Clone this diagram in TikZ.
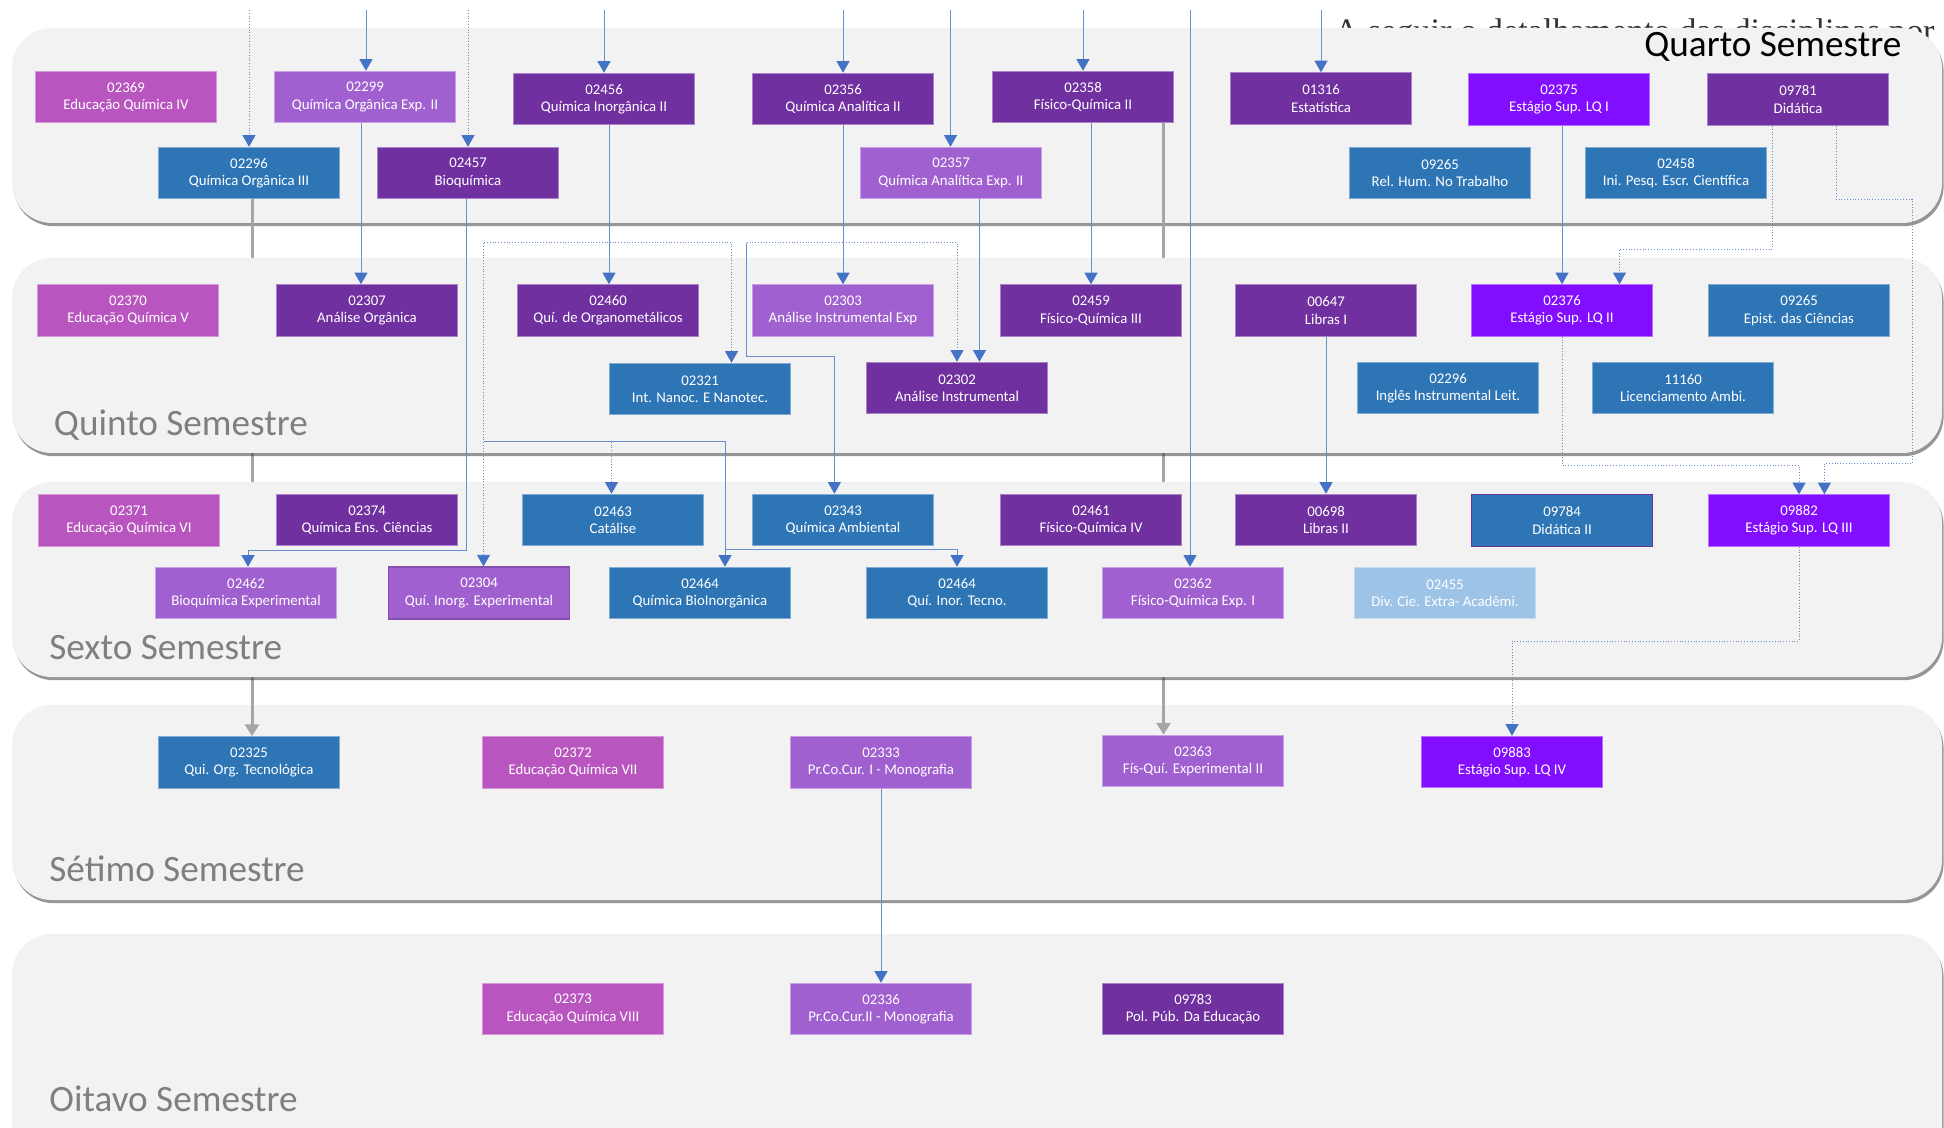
\documentclass[tikz,border=0pt]{standalone}
\usepackage{fontspec}
\setmainfont{Carlito}
\newfontfamily\serifA{Liberation Serif}
\usetikzlibrary{arrows.meta,shadows,calc}
\definecolor{dpur}{HTML}{7030A0}
\definecolor{mag}{HTML}{B955BF}
\definecolor{lpur}{HTML}{A160D0}
\definecolor{cblue}{HTML}{2E75B6}
\definecolor{viol}{HTML}{830EFF}
\definecolor{lblue}{HTML}{9DC3E6}
\definecolor{panelgray}{HTML}{F2F2F2}
\definecolor{lineblue}{HTML}{4472C4}
\definecolor{graycon}{HTML}{A5A5A5}
\definecolor{semgray}{HTML}{7F7F7F}
\pgfdeclarelayer{l0}\pgfdeclarelayer{l1}\pgfdeclarelayer{l2}\pgfdeclarelayer{l3}
\pgfsetlayers{l0,l1,l2,l3,main}
\tikzset{
  panel/.style={fill=panelgray, rounded corners=20pt, drop shadow={shadow xshift=0.8pt, shadow yshift=-1.6pt, opacity=0.55, fill=black!75}},
  cbox/.style={draw=#1!60!white, fill=#1, line width=0.5pt, text=white, minimum width=90.5pt, minimum height=25.75pt, inner sep=0pt, align=center, font=\fontsize{7.4}{8.7}\selectfont},
  conn/.style={draw=lineblue!80!white, line width=0.4pt, -{Triangle[width=6.5pt,length=5.8pt,color=lineblue]}},
  dconn/.style={conn, densely dotted},
  dline/.style={draw=lineblue!80!white, line width=0.4pt, densely dotted},
  gconn/.style={draw=graycon, line width=1.5pt, -{Triangle[width=7pt,length=6pt]}},
  semlab/.style={anchor=base west, inner sep=0pt, text=semgray, font=\fontsize{18.6}{22}\selectfont},
}
\begin{document}
\begin{tikzpicture}[x=0.5pt,y=-0.5pt]
\useasboundingbox (0,0) rectangle (1944,1128);

% ---------- panels ----------
\begin{pgfonlayer}{l0}
  \node[anchor=base west, inner sep=0pt, text=black!80, font=\serifA\fontsize{17.15}{20}\selectfont] (atext) at (1334,42.7) {A seguir o detalhamento das disciplinas por};
  \path[panel] (12,28) rectangle (1942,223);
  \path[panel] (12,705) rectangle (1942,900);
  \path[panel] (12,934) rectangle (1942,1180);
\end{pgfonlayer}
\begin{pgfonlayer}{l2}
  \path[panel] (12,258) rectangle (1942,453);
  \path[panel] (12,482) rectangle (1942,677);
\end{pgfonlayer}

% ---------- Quarto ----------
\node[cbox=mag]   (q1)  at (126,97)    {02369\\Educação Química IV};
\node[cbox=lpur]  (q2)  at (365,97)    {02299\\Química Orgânica Exp. II};
\node[cbox=dpur]  (q3)  at (604,99)    {02456\\Química Inorgânica II};
\node[cbox=dpur]  (q4)  at (843,99)    {02356\\Química Analítica II};
\node[cbox=dpur]  (q5)  at (1083,97)   {02358\\Físico-Química II};
\node[cbox=dpur]  (q6)  at (1321,98.5) {01316\\Estatística};
\node[cbox=viol]  (q7)  at (1559,99.7) {02375\\Estágio Sup. LQ I};
\node[cbox=dpur]  (q8)  at (1798,99.7) {09781\\Didática};
\node[cbox=cblue] (q9)  at (249,173)   {02296\\Química Orgânica III};
\node[cbox=dpur]  (q10) at (468,173)   {02457\\Bioquímica};
\node[cbox=lpur]  (q11) at (951,173)   {02357\\Química Analítica Exp. II};
\node[cbox=cblue] (q12) at (1440,173)  {09265\\Rel. Hum. No Trabalho};
\node[cbox=cblue] (q13) at (1676,173)  {02458\\Ini. Pesq. Escr. Científica};

% ---------- Quinto ----------
\node[cbox=mag]   (r1)  at (128,310.5)  {02370\\Educação Química V};
\node[cbox=dpur]  (r2)  at (367,310.5)  {02307\\Análise Orgânica};
\node[cbox=dpur]  (r3)  at (608,310.5)  {02460\\Quí. de Organometálicos};
\node[cbox=lpur]  (r4)  at (843,310.5)  {02303\\Análise Instrumental Exp};
\node[cbox=dpur]  (r5)  at (1091,310.5) {02459\\Físico-Química III};
\node[cbox=dpur]  (r6)  at (1326,310.5) {00647\\Libras I};
\node[cbox=viol]  (r7)  at (1562,310.5) {02376\\Estágio Sup. LQ II};
\node[cbox=cblue] (r8)  at (1799,310.5) {09265\\Epist. das Ciências};
\node[cbox=cblue] (r9)  at (700,389)    {02321\\Int. Nanoc. E Nanotec.};
\node[cbox=dpur]  (r10) at (957,388)    {02302\\Análise Instrumental};
\node[cbox=cblue] (r11) at (1448,388)   {02296\\Inglês Instrumental Leit.};
\node[cbox=cblue] (r12) at (1683,388)   {11160\\Licenciamento Ambi.};

% ---------- Sexto ----------
\node[cbox=mag]   (s1)  at (129,520.5)  {02371\\Educação Química VI};
\node[cbox=dpur]  (s2)  at (367,520)    {02374\\Química Ens. Ciências};
\node[cbox=cblue] (s3)  at (613,520)    {02463\\Catálise};
\node[cbox=cblue] (s4)  at (843,520)    {02343\\Química Ambiental};
\node[cbox=dpur]  (s5)  at (1091,520)   {02461\\Físico-Química IV};
\node[cbox=dpur]  (s6)  at (1326,520)   {00698\\Libras II};
\node[cbox=cblue, draw=dpur] (s7) at (1562,520.5) {09784\\Didática II};
\node[cbox=viol]  (s8)  at (1799,520.5) {09882\\Estágio Sup. LQ III};
\node[cbox=lpur]  (s9)  at (246,593)    {02462\\Bioquímica Experimental};
\node[cbox=lpur, draw=dpur!85, line width=0.8pt] (s10) at (479,593) {02304\\Quí. Inorg. Experimental};
\node[cbox=cblue] (s11) at (700,593)    {02464\\Química BioInorgânica};
\node[cbox=cblue] (s12) at (957,593)    {02464\\Quí. Inor. Tecno.};
\node[cbox=lpur]  (s13) at (1193,593)   {02362\\Físico-Química Exp. I};
\node[cbox=lblue] (s14) at (1445,593)   {02455\\Div. Cie. Extra- Acadêmi.};

% ---------- Setimo ----------
\node[cbox=cblue] (t1) at (249,762.5)  {02325\\Qui. Org. Tecnológica};
\node[cbox=mag]   (t2) at (573,762.5)  {02372\\Educação Química VII};
\node[cbox=lpur]  (t3) at (881,762.5)  {02333\\Pr.Co.Cur. I - Monografia};
\node[cbox=lpur]  (t4) at (1193,761)   {02363\\Fís-Quí. Experimental II};
\node[cbox=viol]  (t5) at (1512,762)   {09883\\Estágio Sup. LQ IV};

% ---------- Oitavo ----------
\node[cbox=mag]   (o1) at (573,1009)  {02373\\Educação Química VIII};
\node[cbox=lpur]  (o2) at (881,1009)  {02336\\Pr.Co.Cur.II - Monografia};
\node[cbox=dpur]  (o3) at (1193,1009) {09783\\Pol. Púb. Da Educação};

% ---------- labels ----------
\node[anchor=base west, inner sep=0pt, text=black, font=\fontsize{18.6}{22}\selectfont] (lq4) at (1644,57) {Quarto Semestre};
\node[semlab] (lq5) at (53.6,436)   {Quinto Semestre};
\node[semlab] (lq6) at (49,659.3)   {Sexto Semestre};
\node[semlab] (lq7) at (49,881.7)   {Sétimo Semestre};
\node[semlab] (lq8) at (49,1111.7)  {Oitavo Semestre};

% ---------- coordinates ----------
\coordinate (i1) at (249,10);
\coordinate (i2) at (366,10);
\coordinate (i3) at (468,10);
\coordinate (i4) at (604,10);
\coordinate (i5) at (843,10);
\coordinate (i6) at (950.5,10);
\coordinate (i7) at (1083,10);
\coordinate (i8) at (1190,10);
\coordinate (i9) at (1321,10);
\coordinate (X361) at (361,0);
\coordinate (X609) at (609,0);
\coordinate (A1) at (483.5,242);
\coordinate (A2) at (731.5,242);
\coordinate (B1) at (483.5,441);
\coordinate (X611) at (611.5,0);
\coordinate (X725) at (725,0);
\coordinate (C1) at (725,549.3);
\coordinate (X466) at (466.5,0);
\coordinate (D1) at (248,550);
\coordinate (E1) at (746,242.7);
\coordinate (E2) at (834.4,356.7);
\coordinate (E3) at (957,242.7);
\coordinate (X979) at (979.5,0);
\coordinate (X252) at (252,0);
\coordinate (X1163) at (1163.5,0);
\coordinate (X1772) at (1772.3,0);
\coordinate (F1) at (1619.5,249);
\coordinate (X1836) at (1836,0);
\coordinate (G1) at (1912,199);
\coordinate (G2) at (1824.4,463.3);
\coordinate (H1) at (1799,465);
\coordinate (K1) at (1512,641);

% ---------- gray connectors ----------
\begin{pgfonlayer}{l1}
  \draw[gconn] (q9.south -| X252) -- (t1.north -| X252);
  \draw[gconn] (q5.south -| X1163) -- (t4.north -| X1163);
\end{pgfonlayer}

% ---------- blue connectors ----------
\begin{pgfonlayer}{l3}
  \draw[dconn] (i1) -- (i1 |- q9.north);
  \draw[conn]  (i2) -- (i2 |- q2.north);
  \draw[dconn] (i3) -- (i3 |- q10.north);
  \draw[conn]  (i4) -- (i4 |- q3.north);
  \draw[conn]  (i5) -- (i5 |- q4.north);
  \draw[conn]  (i6) -- (i6 |- q11.north);
  \draw[conn]  (i7) -- (i7 |- q5.north);
  \draw[conn]  (i8) -- (i8 |- s13.north);
  \draw[conn]  (i9) -- (i9 |- q6.north);

  \draw[conn] (q2.south -| X361) -- (r2.north -| X361);
  \draw[conn] (q3.south -| X609) -- (r3.north -| X609);
  \draw[dconn] (q3.south -| X609) |- (A1) -- (A1 |- s10.north);
  \draw[dconn] (q3.south -| X609) |- (A2) -- (A2 |- r9.north);
  \draw[conn]  (B1) -| (s11.north -| X725);
  \draw[dconn] (B1) -| (s3.north -| X611);
  \draw[conn]  (C1) -| (s12.north);

  \draw[conn] (q10.south -| X466) |- (D1) -- (D1 |- s9.north);

  \draw[conn]  (q4.south) -- (r4.north);
  \draw[dline] (q4.south) |- (E1);
  \draw[conn]  (E1) |- (E2) -- (E2 |- s4.north);
  \draw[dconn] (q4.south) |- (E3) -- (r10.north);
  \draw[conn]  (q11.south -| X979) -- (r10.north -| X979);

  \draw[conn] (q5.south -| r5.north) -- (r5.north);
  \draw[conn] (r6.south) -- (s6.north);
  \draw[conn] (q7.south -| r7.north) -- (r7.north);
  \draw[dconn] (q8.south -| X1772) |- (F1) -- (F1 |- r7.north);
  \draw[dconn] (q8.south -| X1836) |- (G1) |- (G2) -- (G2 |- s8.north);
  \draw[dconn] (r7.south) |- (H1) -- (s8.north);
  \draw[dconn] (s8.south) |- (K1) -- (t5.north);
  \draw[conn] (t3.south) -- (o2.north);
\end{pgfonlayer}
\end{tikzpicture}
\end{document}
